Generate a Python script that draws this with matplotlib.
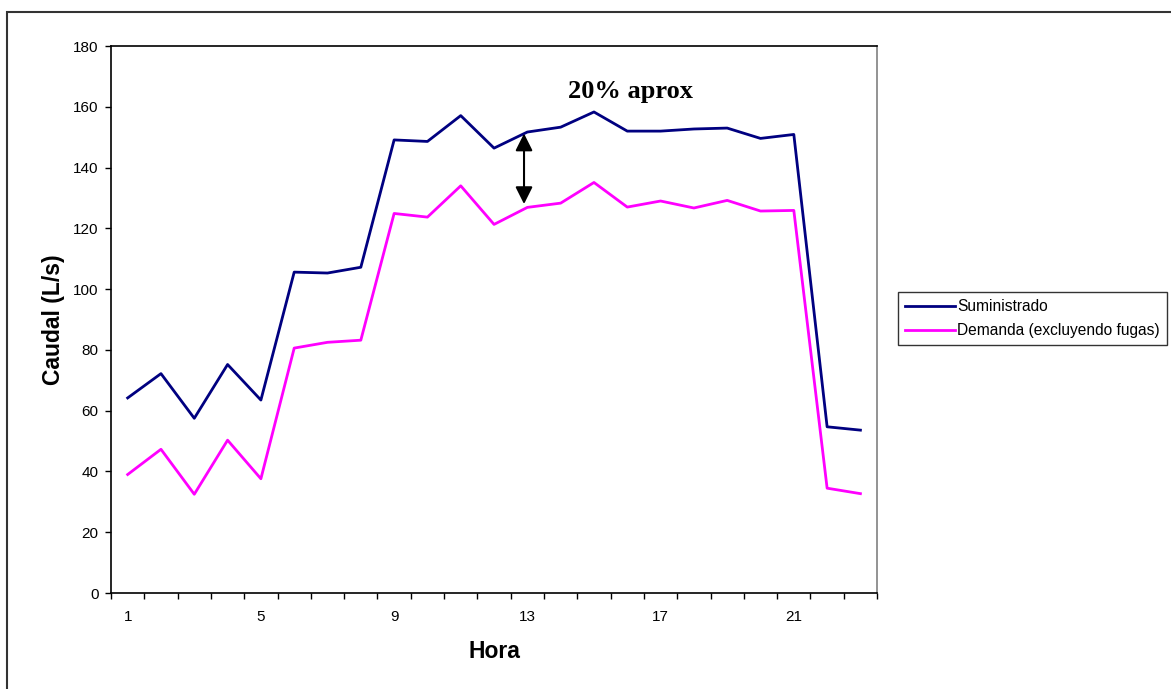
import matplotlib.pyplot as plt
from matplotlib.patches import Rectangle

# datos
horas = list(range(1, 24))
suministrado = [64.2, 72.2, 57.5, 75.2, 63.5, 105.6, 105.3, 107.2, 149.1, 148.6, 157.1, 146.4,
                151.7, 153.3, 158.3, 152.0, 152.0, 152.7, 153.0, 149.6, 150.9, 54.7, 53.6]
demanda = [39.0, 47.3, 32.5, 50.3, 37.6, 80.6, 82.5, 83.2, 124.9, 123.7, 134.0, 121.3,
           126.9, 128.3, 135.1, 127.0, 129.0, 126.7, 129.2, 125.7, 125.9, 34.5, 32.7]
etiquetas_x = [1, 5, 9, 13, 17, 21]
nota = '20% aprox'
nota_xy = (16.1, 165)
flecha_x = 12.9
flecha_y = (151.2, 128.0)

plt.rcParams['font.family'] = ['Liberation Sans', 'DejaVu Sans']

fig = plt.figure(figsize=(11.71, 6.89), dpi=100)
# marco exterior del grafico
fig.patches.append(Rectangle((0.006, -0.1), 1.1, 1.0826, transform=fig.transFigure,
                             fill=False, edgecolor='#333333', lw=1.5))

ax = fig.add_axes([0.0948, 0.1393, 0.6542, 0.7939])

ax.plot(horas, suministrado, color='#000080', lw=2, label='Suministrado')
ax.plot(horas, demanda, color='#FF00FF', lw=2, label='Demanda (excluyendo fugas)')

ax.set_xlim(0.5, len(horas) + 0.5)
ax.set_ylim(0, 180)
ax.set_yticks(range(0, 181, 20))

# ticks entre categorias, etiquetas cada 4 horas
ax.set_xticks([h - 0.5 for h in horas] + [horas[-1] + 0.5])
ax.set_xticklabels([])
ax.set_xticks(etiquetas_x, minor=True)
ax.set_xticklabels([str(e) for e in etiquetas_x], minor=True)
ax.tick_params(axis='x', which='major', length=4, width=1, direction='out')
ax.tick_params(axis='x', which='minor', length=0, pad=12, labelsize=11)
ax.tick_params(axis='y', length=4, width=1, direction='out', pad=5, labelsize=11)

for s in ['left', 'bottom', 'top']:
    ax.spines[s].set_color('black')
ax.spines['right'].set_color('#808080')
for s in ax.spines.values():
    s.set_linewidth(1.2)

ax.set_xlabel('Hora', fontsize=16.5, fontweight='bold', labelpad=12)
ax.set_ylabel('Caudal (L/s)', fontsize=16.5, fontweight='bold', labelpad=6)

ax.annotate('', xy=(flecha_x, flecha_y[0]), xytext=(flecha_x, flecha_y[1]),
            arrowprops=dict(arrowstyle='<|-|>', color='black', lw=1.5,
                            mutation_scale=26, shrinkA=0, shrinkB=0))
ax.text(nota_xy[0], nota_xy[1], nota, ha='center', va='center', fontsize=19,
        fontweight='bold', family='Liberation Serif')

leg = fig.legend(loc='upper left', bbox_to_anchor=(0.767, 0.576), fontsize=11.2,
                 frameon=True, fancybox=False, handlelength=3.2, handletextpad=0.15,
                 borderpad=0.45, labelspacing=0.6, borderaxespad=0)
leg.get_frame().set_edgecolor('black')
leg.get_frame().set_linewidth(1)

fig.savefig('out.png', dpi=100)
